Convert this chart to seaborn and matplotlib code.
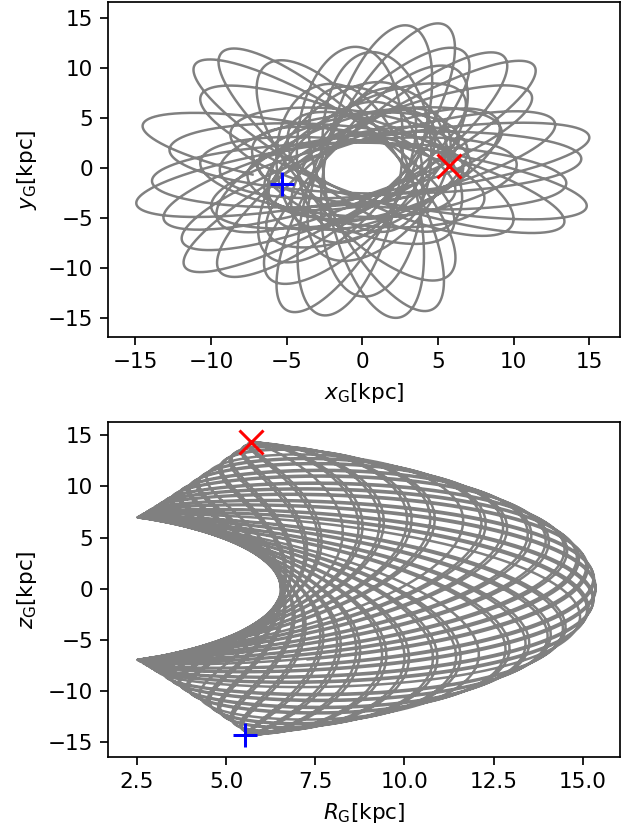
import numpy as np
import matplotlib
matplotlib.use("Agg")
import matplotlib.pyplot as plt
import seaborn as sns

# orbit start / end positions (kpc)
start_xyz = [5.7, 0.2, 14.4]
end_xyz = [-5.3, -1.6, -14.3]

# start velocity (km/s) and potential parameters used for the orbit
start_vel = [0.0, 130.0, 0.0]
v0 = 220.0       # km/s
r_core = 1.5     # kpc
q_flat = 0.95
t_total = 12.0   # kpc/(km/s) ~ 0.98 Gyr
n_steps = 30000

# tick labels and axis ranges
xy_ticks = [-15, -10, -5, 0, 5, 10, 15]
R_ticks = [2.5, 5.0, 7.5, 10.0, 12.5, 15.0]
x_range = (-16.8, 17.0)
y_range = (-16.9, 16.5)
R_range = (1.69, 16.04)
z_range = (-16.5, 16.3)


def accel(pos):
    x, y, z = pos
    d = r_core**2 + x**2 + y**2 + (z / q_flat)**2
    f = -v0**2 / d
    return np.array([f * x, f * y, f * z / q_flat**2])


# leapfrog integration
dt = t_total / n_steps
pos = np.array(start_xyz, dtype=float)
vel = np.array(start_vel, dtype=float)
track = np.empty((n_steps + 1, 3))
track[0] = pos
a = accel(pos)
for i in range(n_steps):
    vel = vel + 0.5 * dt * a
    pos = pos + dt * vel
    a = accel(pos)
    vel = vel + 0.5 * dt * a
    track[i + 1] = pos

xs, ys, zs = track[:, 0], track[:, 1], track[:, 2]
Rs = np.hypot(xs, ys)

dpi = 155
fig = plt.figure(figsize=(621 / dpi, 831 / dpi), dpi=dpi)
ax1 = fig.add_axes([0.174, 0.594, 0.824, 0.403])
ax2 = fig.add_axes([0.174, 0.089, 0.824, 0.403])

sns.lineplot(x=xs, y=ys, sort=False, estimator=None, color="gray", lw=1.15, ax=ax1)
ax1.plot(start_xyz[0], start_xyz[1], "rx", ms=11, mew=1.4)
ax1.plot(end_xyz[0], end_xyz[1], "b+", ms=11, mew=1.4)
ax1.set_xticks(xy_ticks)
ax1.set_yticks(xy_ticks)
ax1.set_xlim(x_range)
ax1.set_ylim(y_range)
ax1.set_xlabel(r"$x_{\rm G}$[kpc]")
ax1.set_ylabel(r"$y_{\rm G}$[kpc]")

sns.lineplot(x=Rs, y=zs, sort=False, estimator=None, color="gray", lw=1.15, ax=ax2)
ax2.plot(np.hypot(start_xyz[0], start_xyz[1]), start_xyz[2], "rx", ms=11, mew=1.4)
ax2.plot(np.hypot(end_xyz[0], end_xyz[1]), end_xyz[2], "b+", ms=11, mew=1.4)
ax2.set_xticks(R_ticks)
ax2.set_yticks(xy_ticks)
ax2.set_xlim(R_range)
ax2.set_ylim(z_range)
ax2.set_xlabel(r"$R_{\rm G}$[kpc]")
ax2.set_ylabel(r"$z_{\rm G}$[kpc]")

fig.savefig("out.png", dpi=dpi)
